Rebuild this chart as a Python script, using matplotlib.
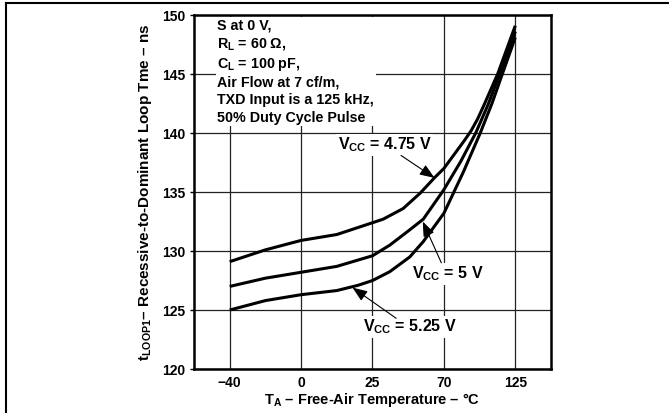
import numpy as np
import matplotlib.pyplot as plt
from matplotlib.lines import Line2D

plt.rcParams['font.family'] = ['Liberation Sans', 'DejaVu Sans']
plt.rcParams['font.weight'] = 'bold'
plt.rcParams['axes.labelweight'] = 'bold'
plt.rcParams['mathtext.fontset'] = 'custom'
plt.rcParams['mathtext.rm'] = 'Liberation Sans:bold'
plt.rcParams['mathtext.it'] = 'Liberation Sans:bold'
plt.rcParams['mathtext.bf'] = 'Liberation Sans:bold'
plt.rcParams['mathtext.sf'] = 'Liberation Sans:bold'

# x axis: equally spaced temperature ticks
temp_ticks = [-40, 0, 25, 70, 125]
y_ticks = [120, 125, 130, 135, 140, 145, 150]

# VCC = 4.75 V
t_475 = [-40, -20, 0, 12.5, 25, 31.7, 44.3, 55, 64, 70, 80, 86, 91, 96, 101, 111.4, 125]
v_475 = [129.1, 130.1, 130.9, 131.4, 132.4, 132.7, 133.6, 134.9, 136.2, 137.0, 138.5, 139.4, 140.2, 141.2,
         142.4, 145.0, 149.1]
# VCC = 5 V
t_5 = [-40, -20, 0, 12.5, 25, 35.9, 48.5, 57, 70, 83, 94.5, 104, 113, 125]
v_5 = [127.0, 127.7, 128.2, 128.7, 129.6, 130.5, 131.8, 132.7, 135.2, 137.6, 140.0, 142.4, 145.0, 148.6]
# VCC = 5.25 V
t_525 = [-40, -20, 0, 12.5, 20, 25, 35.9, 48.5, 57, 70, 85, 98, 107, 115, 125]
v_525 = [125.0, 125.8, 126.3, 126.65, 127.1, 127.5, 128.25, 129.5, 130.8, 133.2, 136.7, 140.0, 142.5, 145.0, 148.1]

# piecewise linear scale, extrapolated on both sides
knots_t = [-1000] + temp_ticks + [1000]
knots_p = [-960 / 40.0, 0, 1, 2, 3, 4, 4 + 875 / 55.0]


def fwd(t):
    return np.interp(t, knots_t, knots_p)


def inv(p):
    return np.interp(p, knots_p, knots_t)


fig = plt.figure(figsize=(6.69, 4.13), dpi=100)
ax = fig.add_axes([0.290, 0.1065, 0.5336, 0.857])
ax.set_xscale('function', functions=(fwd, inv))

for t, v in [(t_475, v_475), (t_5, v_5), (t_525, v_525)]:
    ax.plot(t, v, color='black', lw=2.2, solid_capstyle='butt', solid_joinstyle='round', zorder=4)

ax.set_xlim(-60, 152.5)
ax.set_ylim(120, 150)
ax.set_xticks(temp_ticks)
ax.set_xticklabels(['\u221240', '0', '25', '70', '125'])
ax.set_yticks(y_ticks)
ax.grid(True, color='#222222', lw=0.9)
ax.tick_params(axis='x', length=0, pad=5, labelsize=10)
ax.tick_params(axis='y', length=3, width=1, pad=3, labelsize=10)
for s in ax.spines.values():
    s.set_linewidth(1.8)

ax.set_xlabel('T$_{A}$ \u2013 Free-Air Temperature \u2013 \u00b0C', fontsize=10.5, labelpad=1)
ax.set_ylabel('t$_{LOOP1}$\u2013 Recessive-to-Dominant Loop Tme \u2013 ns', fontsize=11, labelpad=6)

box = dict(facecolor='white', edgecolor='none', pad=1)
ax.text(-46.9, 149.7,
        'S at 0 V,\nR$_{L}$ = 60 \u03a9,\nC$_{L}$ = 100 pF,\nAir Flow at 7 cf/m,\n'
        'TXD Input is a 125 kHz,\n50% Duty Cycle Pulse',
        ha='left', va='top', fontsize=10.3, linespacing=1.3, bbox=box, zorder=3)

arrow = dict(arrowstyle='-|>,head_length=0.9,head_width=0.35', color='black', lw=0.8,
             shrinkA=0, shrinkB=0)
ax.text(32.6, 139.0, 'V$_{CC}$ = 4.75 V', ha='center', va='center', fontsize=11.5, bbox=box, zorder=3)
ax.annotate('', xy=(64.1, 136.2), xytext=(43, 138.1), arrowprops=arrow, zorder=5)
ax.text(72.8, 128.05, 'V$_{CC}$ = 5 V', ha='center', va='center', fontsize=11.5, bbox=box, zorder=3)
ax.annotate('', xy=(56.7, 132.5), xytext=(68.4, 129.0), arrowprops=arrow, zorder=5)
ax.text(48.9, 123.56, 'V$_{CC}$ = 5.25 V', ha='center', va='center', fontsize=11.5, bbox=box, zorder=3)
ax.annotate('', xy=(18.0, 126.9), xytext=(39.9, 124.3), arrowprops=arrow, zorder=5)

# outer frame: top and left edges
fig.add_artist(Line2D([0.009, 1.0], [0.9927, 0.9927], color='black', lw=1.5, transform=fig.transFigure))
fig.add_artist(Line2D([0.009, 0.009], [0.0, 0.9927], color='black', lw=1.5, transform=fig.transFigure))

fig.savefig('out.png', dpi=100)
